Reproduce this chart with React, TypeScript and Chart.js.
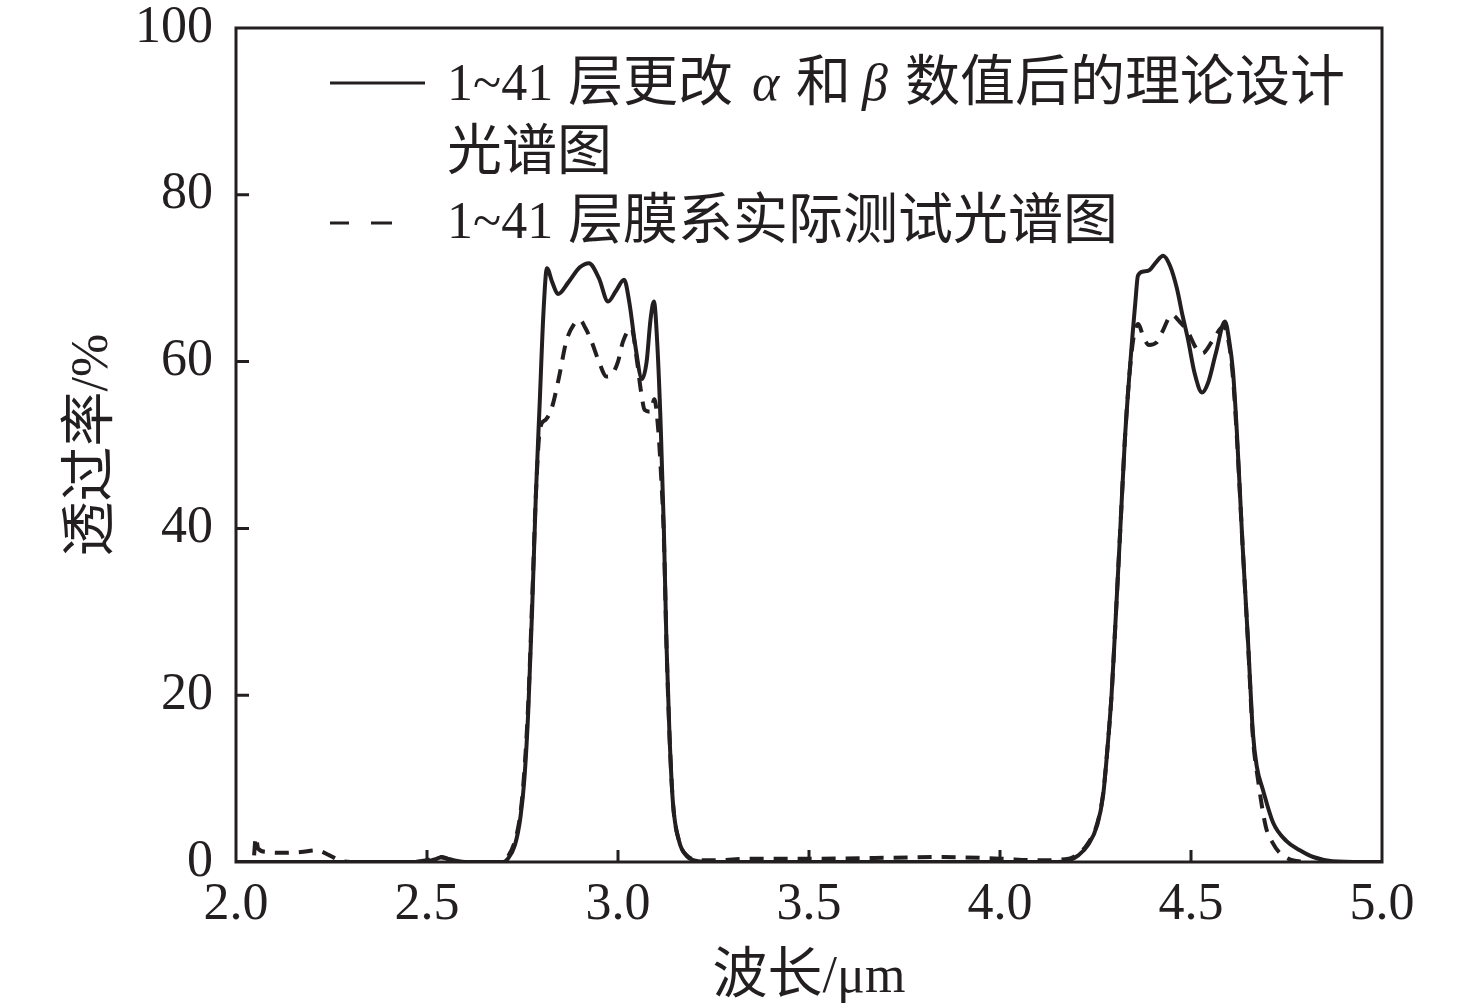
import React, { useRef, useEffect } from "react";
import { Chart, registerables } from "chart.js";

Chart.register(...registerables);

const INK = "#231f20";
const LATIN = "'Liberation Serif', 'Times New Roman', serif";
const CJK = "'Noto Sans CJK SC', sans-serif";

// 1~41 layers, theoretical design after changing alpha and beta (solid)
const designWavelength = [
  2.0, 2.1, 2.2, 2.3, 2.4, 2.49, 2.52, 2.54, 2.56, 2.6, 2.7,
  2.71, 2.73, 2.745, 2.755, 2.765, 2.775, 2.785, 2.795, 2.805, 2.814, 2.828, 2.843, 2.87, 2.9, 2.924,
  2.95, 2.974, 2.995, 3.016, 3.03, 3.045, 3.063, 3.075, 3.085, 3.094, 3.103, 3.112, 3.12, 3.127,
  3.135, 3.144, 3.16, 3.18, 3.2, 3.25, 3.5, 3.8, 4.0, 4.15,
  4.18, 4.205, 4.23, 4.255, 4.27, 4.282, 4.292, 4.3, 4.315, 4.327, 4.338, 4.346, 4.355, 4.361, 4.375,
  4.392, 4.41, 4.427, 4.445, 4.463, 4.478, 4.492, 4.51, 4.529, 4.545, 4.565, 4.589, 4.6, 4.61,
  4.62, 4.635, 4.649, 4.656, 4.662, 4.672, 4.688, 4.715, 4.75, 4.785, 4.82, 4.87, 4.95, 5.0,
];
const designTransmittance = [
  0, 0, 0, 0, 0, 0, 0.3, 0.6, 0.3, 0, 0,
  0.3, 2, 5.5, 10, 18, 30, 44, 55, 66, 71.2, 69.5, 68.1, 69.5, 71.3, 71.8,
  70, 67.2, 68.5, 69.8, 67, 62, 57.9, 60, 65, 67.2, 62, 52, 40, 26,
  15, 7, 2.5, 0.7, 0.2, 0, 0, 0, 0, 0,
  0.2, 0.8, 2, 4.5, 8, 14, 20, 26.7, 40, 50.7, 58, 62.7, 67.5, 70.3, 70.8,
  71, 72, 72.7, 71.5, 68.8, 65.5, 62.7, 58.5, 56.3, 57.5, 61, 64.8, 62.5, 58.8,
  51.6, 38, 26.7, 20.5, 15.5, 11.5, 8.7, 4.7, 2.5, 1.4, 0.6, 0.1, 0, 0,
];

// 1~41 layers, measured spectrum (dashed)
const testWavelength = [
  2.0, 2.045, 2.052, 2.058, 2.08, 2.12, 2.17, 2.21, 2.245, 2.27, 2.3, 2.45, 2.5, 2.53, 2.56, 2.6, 2.7,
  2.71, 2.73, 2.745, 2.755, 2.765, 2.775, 2.785, 2.796, 2.81, 2.827, 2.845, 2.865, 2.885, 2.9,
  2.915, 2.93, 2.95, 2.97, 2.985, 3.0, 3.013, 3.035, 3.05, 3.06, 3.07, 3.085, 3.095, 3.105,
  3.112, 3.12, 3.127, 3.135, 3.144, 3.16, 3.18, 3.2, 3.25, 3.35, 3.5, 3.7, 3.85, 4.0, 4.1,
  4.18, 4.205, 4.23, 4.255, 4.27, 4.282, 4.292, 4.3, 4.315, 4.327, 4.338, 4.35, 4.362, 4.375,
  4.39, 4.41, 4.424, 4.45, 4.47, 4.49, 4.515, 4.53, 4.555, 4.585, 4.6, 4.61, 4.62, 4.635,
  4.649, 4.662, 4.675, 4.696, 4.715, 4.73, 4.76, 4.8,
];
const testTransmittance = [
  0, 0, 3, 1.6, 1.2, 1.1, 1.2, 1.4, 0.8, 0.2, 0, 0, 0.2, 0.6, 0.3, 0, 0,
  0.5, 2.5, 6, 11, 19, 31, 44, 52, 53, 54.5, 58, 62.5, 64.5, 65,
  64, 62.5, 60, 58.2, 58.5, 60, 62.4, 64, 60, 56.5, 54.2, 54, 55.5, 52,
  47, 39, 26, 15, 7, 2.5, 0.8, 0.3, 0.2, 0.4, 0.4, 0.5, 0.6, 0.4, 0.2,
  0.4, 1, 2.2, 4.7, 8.2, 14, 20, 26.7, 40, 50.7, 58, 63, 64.5, 63,
  62, 62.3, 63.5, 65.6, 64.8, 63.7, 61.5, 61, 62.4, 64.2, 62, 58, 51, 38,
  26.5, 15, 10, 4.2, 2.2, 1.2, 0.3, 0,
];

const xTicks = [2.0, 2.5, 3.0, 3.5, 4.0, 4.5, 5.0];
const yTicks = [0, 20, 40, 60, 80, 100];

const latin = `52px ${LATIN}`;
const latinItalic = `italic 52px ${LATIN}`;
const cjk = `55px ${CJK}`;

type Run = { text: string; font: string; x?: number };

const legendLine1: Run[] = [
  { text: "1~41", font: latin, x: 447 },
  { text: "层更改", font: cjk, x: 568 },
  { text: "α", font: latinItalic, x: 752 },
  { text: "和", font: cjk, x: 796 },
  { text: "β", font: latinItalic, x: 862 },
  { text: "数值后的理论设计", font: cjk, x: 905 },
];
const legendLine2: Run[] = [{ text: "光谱图", font: cjk, x: 447 }];
const legendLine3: Run[] = [
  { text: "1~41", font: latin, x: 447 },
  { text: "层膜系实际测试光谱图", font: cjk, x: 568 },
];
const xTitle: Run[] = [
  { text: "波长", font: cjk },
  { text: "/μm", font: latin },
];
const yTitle: Run[] = [
  { text: "透过率", font: cjk },
  { text: "/%", font: latin },
];

function runsWidth(ctx: CanvasRenderingContext2D, runs: Run[]) {
  let w = 0;
  for (const r of runs) {
    ctx.font = r.font;
    w += ctx.measureText(r.text).width;
  }
  return w;
}

function drawRuns(ctx: CanvasRenderingContext2D, runs: Run[], x: number, y: number) {
  let cx = x;
  for (const r of runs) {
    ctx.font = r.font;
    const px = r.x ?? cx;
    ctx.fillText(r.text, px, y);
    cx = px + ctx.measureText(r.text).width;
  }
}

const decorPlugin = {
  id: "decor",
  afterDatasetsDraw(chart: Chart) {
    const { ctx, chartArea } = chart;
    const { left, right, top, bottom } = chartArea;
    const xs = chart.scales.x;
    const ys = chart.scales.y;
    ctx.save();
    ctx.strokeStyle = INK;
    ctx.fillStyle = INK;
    ctx.lineWidth = 3;
    ctx.strokeRect(left, top, right - left, bottom - top);

    // inward tick marks
    ctx.beginPath();
    xTicks.slice(1, -1).forEach((v) => {
      const px = xs.getPixelForValue(v);
      ctx.moveTo(px, bottom);
      ctx.lineTo(px, bottom - 12);
    });
    yTicks.slice(1, -1).forEach((v) => {
      const py = ys.getPixelForValue(v);
      ctx.moveTo(left, py);
      ctx.lineTo(left + 13, py);
    });
    ctx.stroke();

    // legend
    ctx.textBaseline = "alphabetic";
    ctx.textAlign = "left";
    ctx.beginPath();
    ctx.moveTo(330, 83);
    ctx.lineTo(425, 83);
    ctx.moveTo(330, 223);
    ctx.lineTo(349, 223);
    ctx.moveTo(371, 223);
    ctx.lineTo(392, 223);
    ctx.stroke();
    drawRuns(ctx, legendLine1, 447, 100);
    drawRuns(ctx, legendLine2, 447, 169);
    drawRuns(ctx, legendLine3, 447, 238);

    // axis titles
    const xw = runsWidth(ctx, xTitle);
    drawRuns(ctx, xTitle, (left + right) / 2 - xw / 2, 992);
    const yw = runsWidth(ctx, yTitle);
    ctx.translate(107, (top + bottom) / 2);
    ctx.rotate(-Math.PI / 2);
    drawRuns(ctx, yTitle, -yw / 2, 0);
    ctx.restore();
  },
};

export default function App() {
  const canvasRef = useRef<HTMLCanvasElement>(null);

  useEffect(() => {
    document.body.style.margin = "0";
    if (!canvasRef.current) return;

    const chart = new Chart(canvasRef.current, {
      type: "line",
      data: {
        datasets: [
          {
            label: "1~41 层膜系实际测试光谱图",
            data: testWavelength.map((x, i) => ({ x, y: testTransmittance[i] })),
            borderColor: INK,
            borderWidth: 4,
            borderDash: [14, 10],
            pointRadius: 0,
            cubicInterpolationMode: "monotone",
            fill: false,
          },
          {
            label: "1~41 层更改 α 和 β 数值后的理论设计光谱图",
            data: designWavelength.map((x, i) => ({ x, y: designTransmittance[i] })),
            borderColor: INK,
            borderWidth: 4,
            pointRadius: 0,
            cubicInterpolationMode: "monotone",
            fill: false,
          },
        ],
      },
      options: {
        animation: false,
        responsive: true,
        maintainAspectRatio: false,
        layout: { padding: { top: 28, right: 94, left: 0, bottom: 0 } },
        plugins: {
          legend: { display: false },
          tooltip: { enabled: false },
        },
        scales: {
          x: {
            type: "linear",
            min: 2,
            max: 5,
            afterBuildTicks: (s: any) => {
              s.ticks = xTicks.map((value) => ({ value }));
            },
            afterFit: (s: any) => {
              s.height = 146;
              s.paddingLeft = 0;
              s.paddingRight = 0;
            },
            ticks: {
              font: { family: LATIN, size: 52 },
              color: INK,
              padding: 12,
              maxRotation: 0,
              autoSkip: false,
              callback: (v: any) => Number(v).toFixed(1),
            },
            grid: { display: false, drawTicks: false },
            border: { display: false },
          },
          y: {
            min: 0,
            max: 100,
            afterBuildTicks: (s: any) => {
              s.ticks = yTicks.map((value) => ({ value }));
            },
            afterFit: (s: any) => {
              s.width = 236;
              s.paddingTop = 0;
              s.paddingBottom = 0;
            },
            ticks: {
              font: { family: LATIN, size: 52 },
              color: INK,
              padding: 23,
              callback: (v: any) => String(v),
            },
            grid: { display: false, drawTicks: false },
            border: { display: false },
          },
        },
      },
      plugins: [decorPlugin],
    });

    return () => {
      chart.destroy();
    };
  }, []);

  return (
    <div style={{ width: 1476, height: 1008, position: "relative", background: "#fff" }}>
      <canvas ref={canvasRef} />
    </div>
  );
}
